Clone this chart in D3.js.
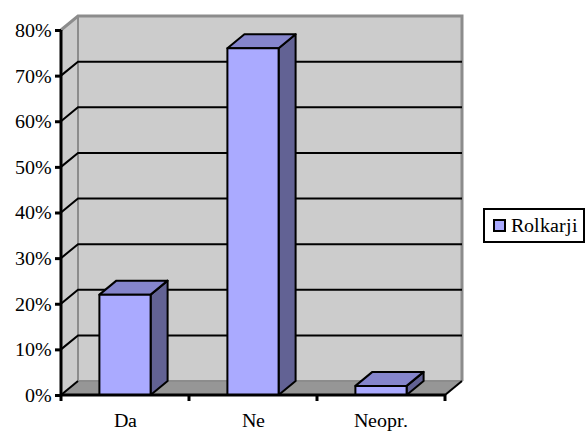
<!DOCTYPE html>
<html><head><meta charset="utf-8">
<script src="https://cdn.jsdelivr.net/npm/d3@7"></script>
<style>
@font-face{font-family:"ChartSerif";src:local("Liberation Serif"),local("LiberationSerif"),local("LiberationSerif-Regular");}
body{margin:0;background:#fff;font-family:"ChartSerif","Liberation Serif","Times New Roman",serif;font-size:20px}
svg{display:block;font-family:"ChartSerif","Liberation Serif","Times New Roman",serif;font-size:20px}
svg text{font-family:"ChartSerif","Liberation Serif","Times New Roman",serif;font-size:20px;fill:#000}
</style>
</head><body>
<script>
const categories = ["Da", "Ne", "Neopr."];
const values = [0.22, 0.76, 0.02];
const yTicks = [0, 0.1, 0.2, 0.3, 0.4, 0.5, 0.6, 0.7, 0.8];
const seriesName = "Rolkarji";

const W = 586, H = 433;
const svg = d3.select("body").append("svg").attr("width", W).attr("height", H);
const x0 = 61, x1 = 445, dx = 17, dy = -14;
const y = d3.scaleLinear().domain([0, 0.8]).range([395, 30]);
const x = d3.scaleBand().domain(categories).range([x0, x1]).paddingInner(0.6).paddingOuter(0.3);
const step = (x1 - x0) / categories.length;
const yb = y(0);

// back wall
svg.append("rect").attr("x", x0 + dx).attr("y", y(0.8) + dy).attr("width", x1 - x0).attr("height", yb - y(0.8))
  .attr("fill", "#cccccc");
// left side wall
svg.append("polygon").attr("points", [[x0, y(0.8)], [x0 + dx, y(0.8) + dy], [x0 + dx, yb + dy], [x0, yb]].join(" "))
  .attr("fill", "#cccccc");
// floor
svg.append("polygon").attr("points", [[x0, yb], [x0 + dx, yb + dy], [x1 + dx, yb + dy], [x1, yb]].join(" "))
  .attr("fill", "#969696");
// back wall outlines
svg.append("path").attr("d", `M${x0},${y(0.8)}L${x0 + dx},${y(0.8) + dy}L${x1 + dx},${y(0.8) + dy}L${x1 + dx},${yb + dy}`)
  .attr("fill", "none").attr("stroke", "#8c8c8c").attr("stroke-width", 3);
svg.append("line").attr("x1", x0 + dx).attr("x2", x0 + dx).attr("y1", y(0.8) + dy).attr("y2", yb + dy)
  .attr("stroke", "#8c8c8c").attr("stroke-width", 2);
svg.append("line").attr("x1", x0 + dx).attr("x2", x1 + dx).attr("y1", yb + dy).attr("y2", yb + dy)
  .attr("stroke", "#8c8c8c").attr("stroke-width", 2);

// gridlines
yTicks.filter(t => t > 0 && t < 0.8).forEach(t => {
  svg.append("path").attr("d", `M${x0},${y(t)}L${x0 + dx},${y(t) + dy}L${x1 + dx},${y(t) + dy}`)
    .attr("fill", "none").attr("stroke", "#000").attr("stroke-width", 2);
});
svg.append("path").attr("d", `M${x0},${yb}L${x0 + dx},${yb + dy}`).attr("stroke", "#000").attr("stroke-width", 2);
svg.append("path").attr("d", `M${x1},${yb}L${x1 + dx},${yb + dy}`).attr("stroke", "#000").attr("stroke-width", 2);

// bars
categories.forEach((c, i) => {
  const v = values[i];
  const bx = x(c), bw = x.bandwidth(), ty = y(v);
  const g = svg.append("g").attr("stroke", "#000").attr("stroke-width", 2).attr("stroke-linejoin", "round");
  g.append("polygon").attr("points", [[bx + bw, ty], [bx + bw + dx, ty + dy], [bx + bw + dx, yb + dy], [bx + bw, yb]].join(" "))
    .attr("fill", "#626294");
  g.append("polygon").attr("points", [[bx, ty], [bx + dx, ty + dy], [bx + bw + dx, ty + dy], [bx + bw, ty]].join(" "))
    .attr("fill", "#8585cc");
  g.append("rect").attr("x", bx).attr("y", ty).attr("width", bw).attr("height", yb - ty).attr("fill", "#aaaaff");
});

// y axis
const yAxis = svg.append("g").attr("transform", `translate(${x0},0)`)
  .call(d3.axisLeft(y).tickValues(yTicks).tickFormat(d3.format(".0%")).tickSize(6).tickPadding(3));
yAxis.attr("font-family", null).attr("font-size", null);
yAxis.select(".domain").attr("stroke-width", 3).attr("d", `M0,${y(0.8)}V${yb}`);
yAxis.selectAll(".tick line").attr("stroke-width", 3);

// x axis
const xAxis = svg.append("g").attr("transform", `translate(0,${yb})`)
  .call(d3.axisBottom(x).tickSize(0).tickPadding(18));
xAxis.attr("font-family", null).attr("font-size", null);
xAxis.select(".domain").attr("stroke-width", 3).attr("d", `M${x0},0H${x1}`);
xAxis.selectAll(".tick line").remove();
d3.range(categories.length + 1).forEach(k => {
  svg.append("line").attr("x1", x0 + k * step).attr("x2", x0 + k * step).attr("y1", yb).attr("y2", yb + 6)
    .attr("stroke", "#000").attr("stroke-width", 3);
});

// legend
const lg = svg.append("g");
lg.append("rect").attr("x", 484).attr("y", 209).attr("width", 100).attr("height", 33)
  .attr("fill", "#fff").attr("stroke", "#000").attr("stroke-width", 2);
lg.append("rect").attr("x", 494).attr("y", 220).attr("width", 11).attr("height", 11)
  .attr("fill", "#aaaaff").attr("stroke", "#000").attr("stroke-width", 2);
lg.append("text").attr("x", 511).attr("y", 232).text(seriesName);
</script>
</body></html>
